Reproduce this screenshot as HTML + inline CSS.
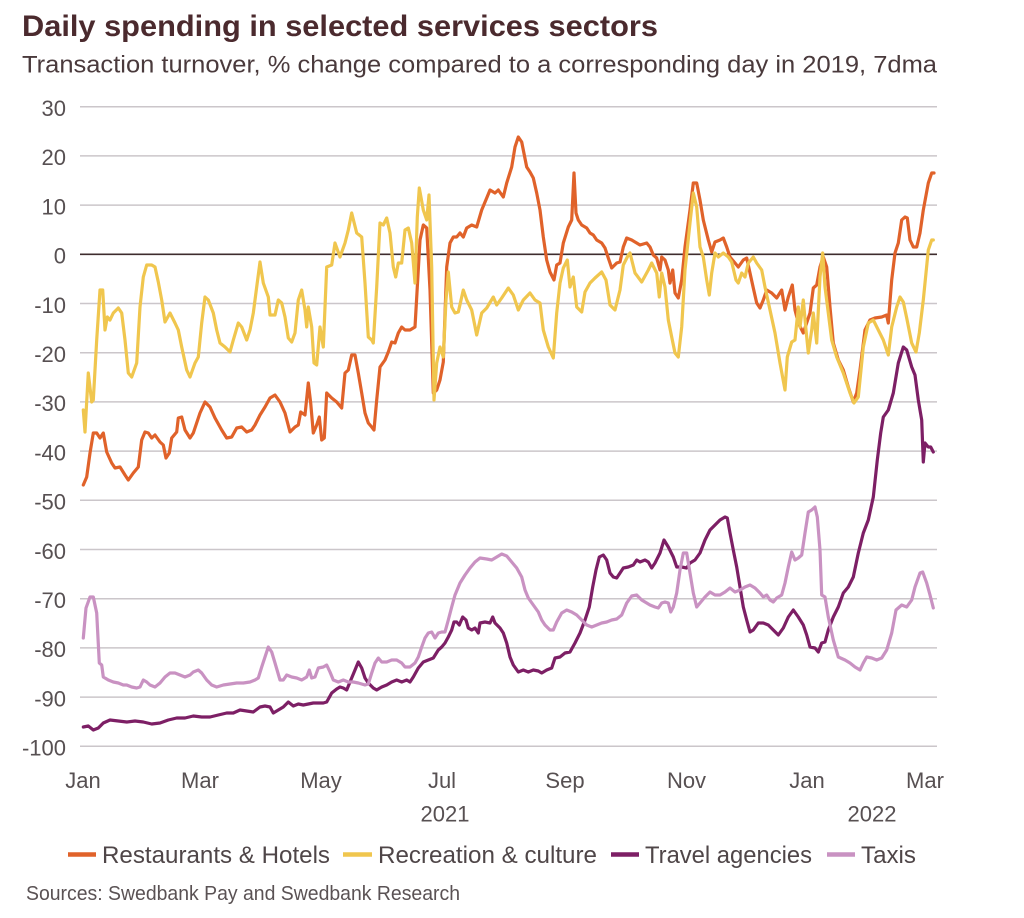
<!DOCTYPE html>
<html>
<head>
<meta charset="utf-8">
<style>
  html,body{margin:0;padding:0;background:#fff;}
  svg{display:block;}
  text{font-family:"Liberation Sans", sans-serif;}
</style>
</head>
<body>
<svg width="1024" height="918" viewBox="0 0 1024 918" xmlns="http://www.w3.org/2000/svg">
  <rect x="0" y="0" width="1024" height="918" fill="#ffffff"/>
  <!-- Title -->
  <text x="22" y="36" font-size="30" font-weight="bold" fill="#4b2a2e" textLength="636" lengthAdjust="spacingAndGlyphs">Daily spending in selected services sectors</text>
  <text x="22" y="72.5" font-size="24" fill="#4a3a3c" textLength="915" lengthAdjust="spacingAndGlyphs">Transaction turnover, % change compared to a corresponding day in 2019, 7dma</text>

  <!-- Gridlines -->
  <g stroke="#cbc6ca" stroke-width="1.5">
    <line x1="80" y1="106.7" x2="937" y2="106.7"/>
    <line x1="80" y1="155.9" x2="937" y2="155.9"/>
    <line x1="80" y1="205.1" x2="937" y2="205.1"/>
    <line x1="80" y1="303.5" x2="937" y2="303.5"/>
    <line x1="80" y1="352.7" x2="937" y2="352.7"/>
    <line x1="80" y1="401.9" x2="937" y2="401.9"/>
    <line x1="80" y1="451.1" x2="937" y2="451.1"/>
    <line x1="80" y1="500.3" x2="937" y2="500.3"/>
    <line x1="80" y1="549.5" x2="937" y2="549.5"/>
    <line x1="80" y1="598.7" x2="937" y2="598.7"/>
    <line x1="80" y1="647.9" x2="937" y2="647.9"/>
    <line x1="80" y1="697.1" x2="937" y2="697.1"/>
    <line x1="80" y1="746.3" x2="937" y2="746.3"/>
  </g>
  <line x1="80" y1="254.3" x2="937" y2="254.3" stroke="#3e2c2e" stroke-width="1.6"/>

  <!-- Y labels -->
  <g font-size="22" fill="#575052" text-anchor="end">
    <text x="66" y="116">30</text>
    <text x="66" y="165.2">20</text>
    <text x="66" y="214.4">10</text>
    <text x="66" y="263.6">0</text>
    <text x="66" y="312.8">-10</text>
    <text x="66" y="362">-20</text>
    <text x="66" y="411.2">-30</text>
    <text x="66" y="460.4">-40</text>
    <text x="66" y="509.6">-50</text>
    <text x="66" y="558.8">-60</text>
    <text x="66" y="608">-70</text>
    <text x="66" y="657.2">-80</text>
    <text x="66" y="706.4">-90</text>
    <text x="66" y="755.6">-100</text>
  </g>

  <!-- X labels -->
  <g font-size="22" fill="#575052" text-anchor="middle">
    <text x="83" y="788">Jan</text>
    <text x="200" y="788">Mar</text>
    <text x="321" y="788">May</text>
    <text x="442" y="788">Jul</text>
    <text x="565" y="788">Sep</text>
    <text x="686.5" y="788">Nov</text>
    <text x="807" y="788">Jan</text>
    <text x="925" y="788">Mar</text>
    <text x="445" y="821.5">2021</text>
    <text x="872" y="821.5">2022</text>
  </g>

  <!-- Series -->
  <g fill="none" stroke-width="3.2" stroke-linejoin="round" stroke-linecap="round">
    <polyline stroke="#e0622a" points="83.3,485 86.7,477 90,453 93.3,433 96.7,433 100,438 103.3,433 106.7,452 111.7,463 115,468 120,467 125,475 128.3,480 133.3,473 138.3,467 141.7,440 145,432 148.3,433 151.7,438 155,435 160,442 163.3,445 166,458 169.3,453 171.7,438 176.7,432 178.3,418 181.7,417 185,430 190,438 193.3,433 200,413 205,402 210,407 215,418 221.7,430 226.7,438 231.7,437 236.7,428 241.7,427 246.7,432 251.7,430 255,425 260,415 265,407 270,398 275,395 280,402 285,413 290,432 295,427 298.3,425 300.7,412 305,415 308.3,383 310.7,403 313.3,433 316.7,425 319.3,417 321.7,440 324.3,438 326.7,393 331.7,398 336.7,402 341.7,408 345,373 348.3,370 351.7,355 355,355 358.3,373 361.7,393 365,413 368.3,423 371.7,427 374,430 376.7,400 380,367 385,360 388.3,352 391.7,342 395,343 398.3,333 401.7,327 405,330 410,330 415,327 417.3,287 420,240 423.3,225 426.7,228 430,290 433.3,393 436.7,390 440,380 443.3,362 446.7,267 450,243 453.3,237 456.7,237 460,233 463.3,237 466.7,228 471.7,225 476.7,227 481.7,210 486.7,198 490,190 495,193 498.3,190 503.3,197 506.7,183 511.7,167 515,147 518.3,137 521.7,142 526.7,167 530,172 533.3,178 536.7,193 540,210 543.3,237 546.7,260 550,272 554,280 556.7,265 560,263 563.3,243 568.3,227 571.7,220 574,173 576,213 578.3,220 581.7,225 586.7,228 590,233 593.3,235 596.7,240 601.7,243 605,248 608.3,258 611.7,268 616.7,263 620,262 623.3,247 626.7,238 631.7,240 636.7,243 640,245 646.7,243 650,247 653.3,255 656.7,258 660,270 661.7,257 665,260 668.3,270 670,283 672.7,270 675,293 678.3,298 681.7,280 685,247 690,210 693.3,183 696.7,183 700,200 703.3,220 708.3,240 711.7,252 715,242 720,240 723.3,238 726.7,247 730,257 735,263 738.3,267 743.3,260 746.7,258 750,273 753.3,288 756.7,303 760,308 763.3,300 766.7,290 771.7,293 776.7,298 781.7,290 785,310 788.3,297 792.3,285 795,310 798.3,323 803.3,333 810,313 813.3,288 816.7,285 820,267 823.3,257 826.7,267 830,307 833.3,343 838.3,360 843.3,370 848.3,387 853.3,402 856.7,393 860,370 865,330 870,320 875,318 881.7,317 886.7,315 888.3,323 891.7,280 895,253 898.3,243 901.7,220 905,217 907.3,218 910,240 913.3,247 916.7,247 920,233 923.3,210 928.3,183 931.7,173 934,173"/>
    <polyline stroke="#f0c64e" points="83.3,410 85,432 88.3,373 91.7,402 93.3,400 96.7,340 100,290 102.7,290 105,330 107.3,317 110,320 113.3,313 118.3,308 121.7,313 125,340 128.3,373 131.7,377 136.7,363 140,307 143.3,277 146.7,265 151.7,265 155,267 158.3,282 161.7,300 165,322 170,313 175,323 178.3,330 181.7,347 186.7,370 190,377 195,363 198.3,357 201.7,323 205,297 208.3,300 213.3,313 216.7,330 220,343 225,347 230,352 233.3,340 238.3,323 241.7,327 246.7,340 250,330 253.3,313 256.7,287 260,262 263.3,283 268.3,297 270,315 275,315 278.3,300 281.7,303 285,317 288.3,338 291.7,342 295,333 298.3,300 301.7,290 305,310 306.7,327 308.3,307 311.7,327 314,363 316.7,365 320,327 323.3,347 326.7,267 331.7,265 335,243 340,257 345,243 348.3,230 351.7,213 356.7,233 361.7,237 365,283 368.3,337 371.7,340 373.3,343 376.7,287 380,223 383.3,225 386.7,218 390,233 393.3,267 395.7,277 398.3,263 401.7,263 405,230 408.3,228 411.7,243 415,283 417.3,217 419.3,188 423.3,210 426.7,220 429,195 431.7,267 434,400 436.7,363 440,347 443.3,357 446,300 448.3,272 451.7,307 455,313 458.3,312 463.3,290 466.7,300 471.7,310 476.7,335 481.7,313 486.7,308 493.3,297 496.7,305 501.7,298 508.3,288 513.3,295 518.3,310 523.3,300 530,293 535,300 540,303 543.3,330 548.3,347 553.3,358 556.7,313 560,283 563.3,268 567.3,260 570,287 573.3,277 576.7,307 581.7,312 585,292 590,283 595,278 601.7,272 606,280 610,305 615,310 620,290 623.3,265 628.3,255 630,253 635,273 641.7,282 648.3,270 651.7,263 656.7,273 659.3,297 661.7,273 665,287 668.3,320 671.7,337 675,353 678.3,357 681.7,327 685,270 690,223 693.3,193 696.7,207 700,247 703.3,257 706.7,280 709.3,295 711.7,273 715,253 718.3,257 723.3,253 728.3,257 731.7,262 736,280 738.3,283 741.7,273 745,277 748.3,263 753.3,257 756.7,263 761.7,270 765,287 770,310 775,333 780,363 785,390 787.3,357 791.7,342 795,340 798.3,307 800,327 803.3,300 806,330 808.3,353 811.7,330 813.3,313 816.7,343 820,277 822.7,253 825,287 828.3,313 831.7,340 836.7,357 843.3,373 850,393 854,403 858.3,397 863.3,347 868.3,323 873.3,320 878.3,330 883.3,340 888.3,355 891.7,327 896.7,307 900,297 903.3,302 906.7,318 911.7,343 916,352 919.3,333 923.3,300 928.3,250 931.7,240 933.3,240"/>
    <polyline stroke="#7d1f65" points="83.3,727 88.3,726 93.3,730 98.3,728 103.3,723 110,720 118.3,721 126.7,722 135,721 143.3,722 151.7,724 160,723 168.3,720 176.7,718 185,718 193.3,716 201.7,717 210,717 218.3,715 226.7,713 233.3,713 240,710 246.7,711 253.3,712 260,707 265,706 270,707 273.3,713 278.3,710 283.3,707 288.3,702 293.3,706 298.3,704 303.3,705 308.3,704 313.3,703 318.3,703 323.3,703 326.7,702 331.7,693 336.7,689 340,687 343.3,688 346.7,690 350,682 355,670 358.3,662 361.7,668 365,678 368.3,683 373.3,688 376.7,690 381.7,687 386.7,685 391.7,682 396.7,680 401.7,682 406.7,680 410,682 413.3,677 418.3,668 423.3,662 428.3,660 433.3,658 438.3,650 441.7,647 445,643 448.3,637 451.7,630 454,622 456.7,622 459.3,625 462.7,617 466,620 468.3,628 471.7,630 475,628 478.3,633 480,623 485,622 490,623 492.7,617 495,623 500,628 503.3,633 506.7,643 510,657 513.3,665 518.3,672 523.3,670 528.3,672 533.3,670 538.3,671 541.7,673 546.7,670 551.7,668 555,658 560,657 565,653 570,652 575,643 580,633 585,620 589.3,607 592.7,587 596,570 599.3,557 603.3,555 606.7,560 610,573 613.3,577 616.7,578 620,573 623.3,568 628.3,567 633.3,565 636.7,560 640,562 645,560 648.3,562 651.7,568 655,563 660,553 664,540 668.3,547 673.3,557 676.7,567 681.7,567 686.7,568 690,563 695,560 700,553 705,540 710,530 715,525 720,520 725,517 727.3,518 730,533 733.3,550 736.7,567 740,587 743.3,607 746.7,620 750,632 753.3,630 758.3,623 763.3,623 768.3,625 773.3,630 778.3,635 783.3,628 788.3,617 793.3,610 798.3,617 803.3,625 806.7,635 810,647 815,648 818.3,652 821.7,643 825,642 828.3,630 833.3,617 838.3,607 843.3,593 848.3,587 853.3,577 858.3,553 863.3,533 868.3,520 873.3,497 877.3,460 880.7,433 883.3,417 888.3,410 893.3,393 898.3,363 903.3,347 906.7,350 911.7,367 915,375 918.3,400 921.7,420 923.3,462 925,443 928.3,447 930.7,447 933.3,452"/>
    <polyline stroke="#c992c2" points="83.3,638 86,608 90,597 93.3,597 96.7,613 99.3,663 101.7,665 103.3,677 108.3,680 113.3,682 118.3,683 123.3,685 126.7,685 131.7,687 136.7,688 140,687 143.3,680 146.7,682 150,685 155,687 160,683 165,677 170,673 175,673 180,675 185,677 190,675 193.3,672 198.3,670 201.7,673 206.7,680 211.7,685 216.7,687 223.3,685 230,684 236.7,683 243.3,683 250,682 255,680 258.3,678 261.7,667 265,657 268.3,647 271.7,652 275,663 280,680 283.3,680 286.7,675 291.7,677 296.7,678 301.7,680 306.7,677 309.3,670 311.7,678 315,677 318.3,668 323.3,667 326.7,665 330,672 333.3,680 338.3,682 343.3,680 348.3,682 353.3,682 358.3,683 365,685 368.3,684 371.7,673 375,663 378.3,658 381.7,662 386.7,662 391.7,660 396.7,660 401.7,663 405,667 410,667 415,663 418.3,657 421.7,647 425,638 428.3,633 431.7,632 435,638 438.3,633 441.7,632 445,632 448.3,620 451.7,607 455,595 460,583 465,575 470,568 475,562 480,558 486.7,559 491.7,560 496.7,557 501.7,554 506.7,556 511.7,562 516.7,568 521.7,577 525,590 528.3,598 533.3,605 538.3,612 541.7,620 545,625 550,630 553.3,630 556.7,622 561.7,613 566.7,610 571.7,612 576.7,615 581.7,620 586.7,625 591.7,627 596.7,625 601.7,623 606.7,622 611.7,620 616.7,619 621.7,615 626.7,603 631.7,596 636.7,595 641.7,600 646.7,603 650,605 655,607 658.3,608 661.7,603 665,602 668.3,603 670.7,612 673.3,607 676.7,593 680,570 683.3,553 686.7,553 690,573 693.3,593 696.7,607 700,603 705,597 710,592 715,595 720,595 725,592 730,588 735,592 740,590 745,587 750,585 755,588 760,593 763.3,597 766.7,595 770,600 773.3,602 776.7,598 781.7,595 785,583 788.3,567 791.7,552 795,560 798.3,558 801.7,555 805,533 808.3,512 811.7,510 815,507 817.3,517 820,550 821.7,595 825,597 828.3,617 833.3,640 838.3,657 845,660 850,663 855,667 860,670 863.3,663 866.7,657 871.7,658 876.7,660 881.7,658 886.7,650 891.7,633 896,610 901.7,605 906.7,607 911.7,600 915,587 920,573 922.7,572 926.7,583 930,595 933.3,608"/>
  </g>

  <!-- Legend -->
  <g stroke-width="4.5">
    <line x1="68" y1="854.5" x2="96" y2="854.5" stroke="#e0622a"/>
    <line x1="343" y1="854.5" x2="372" y2="854.5" stroke="#f0c64e"/>
    <line x1="611" y1="854.5" x2="639" y2="854.5" stroke="#7d1f65"/>
    <line x1="827" y1="854.5" x2="855" y2="854.5" stroke="#c992c2"/>
  </g>
  <g font-size="24" fill="#4f4648">
    <text x="102" y="863" textLength="228" lengthAdjust="spacingAndGlyphs">Restaurants &amp; Hotels</text>
    <text x="378" y="863" textLength="219" lengthAdjust="spacingAndGlyphs">Recreation &amp; culture</text>
    <text x="645" y="863" textLength="167" lengthAdjust="spacingAndGlyphs">Travel agencies</text>
    <text x="861" y="863" textLength="55" lengthAdjust="spacingAndGlyphs">Taxis</text>
  </g>

  <!-- Sources -->
  <text x="26" y="900" font-size="20" fill="#5a5254" textLength="434" lengthAdjust="spacingAndGlyphs">Sources: Swedbank Pay and Swedbank Research</text>
</svg>
</body>
</html>
